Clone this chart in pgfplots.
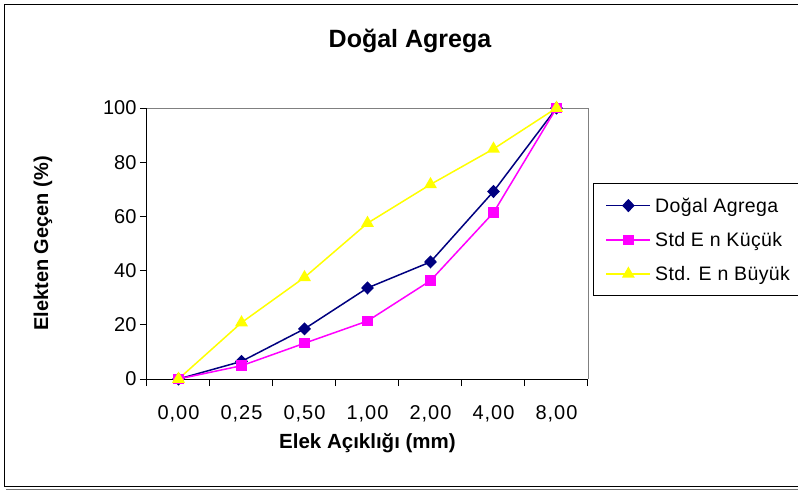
\documentclass[border=0pt]{standalone}
\usepackage{fontspec}
\setmainfont{Liberation Sans}
\newfontfamily\spaced{Liberation Sans}[LetterSpace=5]
\newfontfamily\legfont{Liberation Sans}[LetterSpace=2]
\usepackage{pgfplots}
\pgfplotsset{compat=1.18}
\definecolor{navyc}{RGB}{0,0,128}
\definecolor{magc}{RGB}{255,0,255}
\definecolor{yelc}{RGB}{255,255,0}
\begin{document}
\begin{tikzpicture}[x=1pt,y=1pt]
\useasboundingbox (0,0) rectangle (798,491);
\clip (0,0) rectangle (798,491);
\fill[white] (0,0) rectangle (798,491);
\draw[black!55, line width=1.2pt] (6,1.6) -- (812,1.6);
\draw[black, line width=1.3pt] (4.5,486.5) rectangle (812,4.2);
\node[font=\fontsize{25}{30}\selectfont\bfseries] at (410,450) {Doğal Agrega};
\begin{axis}[
  at={(147pt,112pt)}, anchor=south west,
  width=441pt, height=271pt, scale only axis,
  xmin=-0.5, xmax=6.5, ymin=0, ymax=100,
  axis x line*=bottom, axis y line*=left,
  axis line style={black, line width=1pt},
  xtick={-0.5,0.5,...,6.5},
  x tick label as interval,
  xticklabels={{0,00},{0,25},{0,50},{1,00},{2,00},{4,00},{8,00}},
  ytick={0,20,...,100},
  yticklabels={0,20,40,60,80,100},
  tick align=outside,
  major tick length=7pt,
  tick style={black, line width=1pt},
  xticklabel style={font=\spaced\fontsize{20}{24}\selectfont, anchor=base, yshift=-40pt+7pt},
  yticklabel style={font=\fontsize{20}{24}\selectfont, anchor=east},
  xlabel={Elek Açıklığı (mm)},
  ylabel={Elekten Geçen (\%)},
  xlabel style={font=\fontsize{20.5}{24}\selectfont\bfseries, at={(axis description cs:0.5,0)}, anchor=center, yshift=-64pt},
  ylabel style={font=\fontsize{20}{24}\selectfont\bfseries, at={(axis description cs:0,0.5)}, anchor=center, rotate=0, yshift=104pt},
  clip=false,
  legend style={at={(1.0113,0.7232)}, anchor=north west, draw=black, line width=1.3pt,
    font=\legfont\fontsize{19.5}{24}\selectfont, row sep=14.5pt, column sep=2pt, inner xsep=12pt, inner ysep=12pt,
    cells={anchor=west}},
  legend image code/.code={\draw[mark repeat=2,mark phase=2,#1] plot coordinates {(0pt,0pt)(22pt,0pt)(44pt,0pt)};},
]
\draw[black!50, line width=0.8pt] (rel axis cs:0,1) -- (rel axis cs:1,1) -- (rel axis cs:1,0);
\addplot[navyc, line width=1.5pt, mark=diamond*, mark size=5.5pt, mark options={solid, xscale=1.3}]
  coordinates {(0,0) (1,6.5) (2,18.5) (3,33.6) (4,43.2) (5,69.2) (6,100)};
\addlegendentry{Doğal Agrega}
\addplot[magc, line width=1.5pt, mark=square*, mark size=4.5pt, mark options={solid}]
  coordinates {(0,0) (1,4.9) (2,13.2) (3,21.4) (4,36.3) (5,61.4) (6,100)};
\addlegendentry{Std E n Küçük}
\addplot[yelc, line width=1.5pt, mark=triangle*, mark size=6pt, mark options={solid}]
  coordinates {(0,0) (1,20.8) (2,37.5) (3,57.5) (4,71.8) (5,84.9) (6,100)};
\addlegendentry{Std. E n Büyük}
\end{axis}
\end{tikzpicture}
\end{document}
